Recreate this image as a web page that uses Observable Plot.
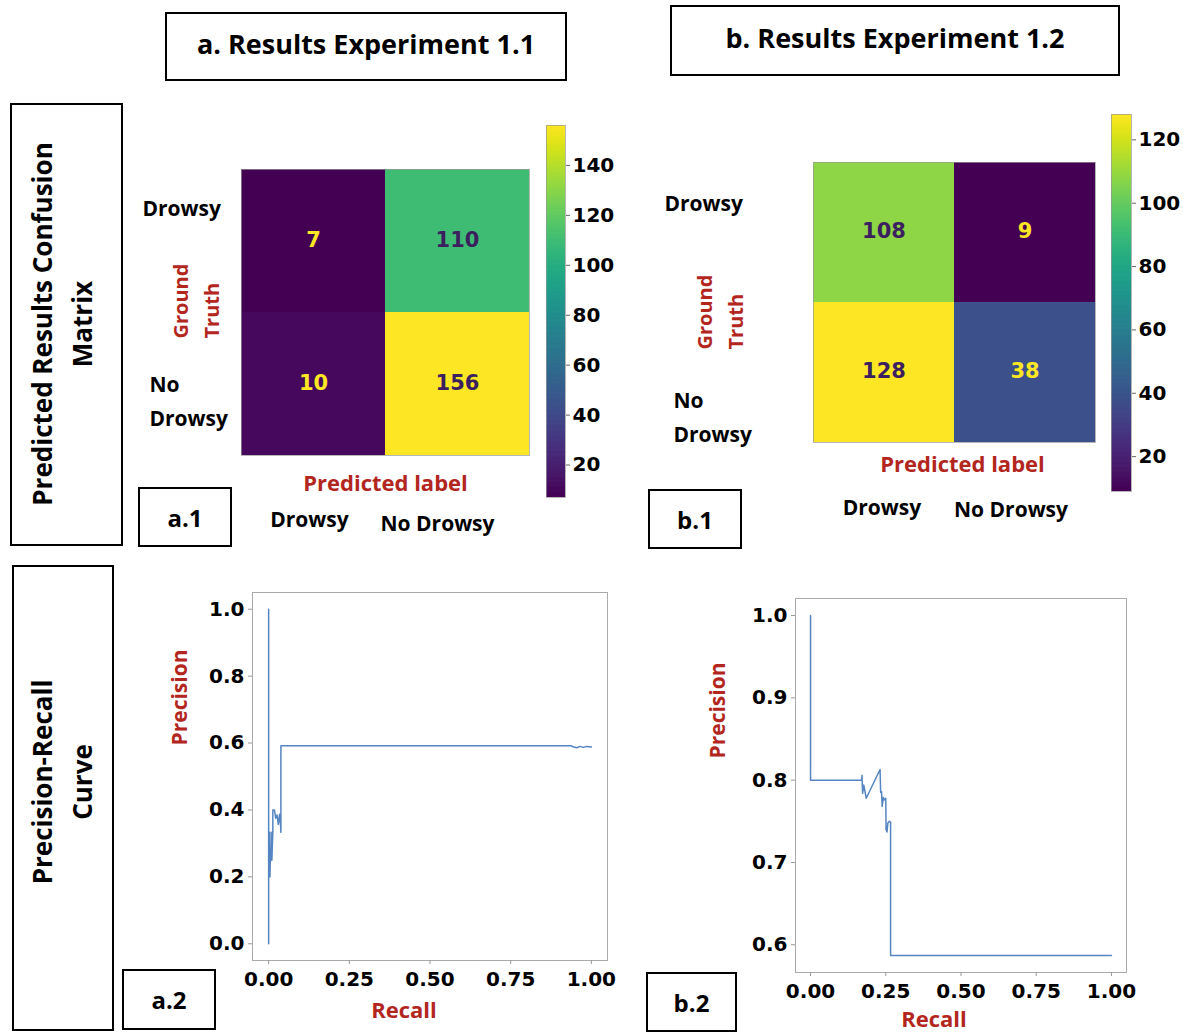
<!DOCTYPE html>
<html><head><meta charset="utf-8">
<script src="https://cdn.jsdelivr.net/npm/d3@7"></script>
<script src="https://cdn.jsdelivr.net/npm/@observablehq/plot@0.6"></script>
<style>
body{margin:0;background:#fff;}
#root{position:relative;width:1194px;height:1036px;overflow:hidden;font-family:"Open Sans",sans-serif;font-weight:700;color:#000;}
.box{position:absolute;border:2px solid #000;box-sizing:border-box;display:flex;align-items:center;justify-content:center;font-weight:700;background:#fff;}
.title{padding-bottom:7px;}
.rot{position:absolute;transform:translate(-50%,-50%) rotate(-90deg);white-space:pre;text-align:center;font-size:26px;line-height:40px;font-weight:700;}
</style></head><body><div id="root"></div>
<script>
// ---------- data ----------
const classes = ["Drowsy", "No Drowsy"];
const rowLabels = ["Drowsy", "No\nDrowsy"];
// confusion matrices, row-major: [truth Drowsy: pred Drowsy, pred No Drowsy, truth No Drowsy: ...]
const matrixA = [7, 110, 10, 156];
const matrixB = [108, 9, 128, 38];
const cbTicksA = [20, 40, 60, 80, 100, 120, 140];
const cbTicksB = [20, 40, 60, 80, 100, 120];
const prTicksX = [0, 0.25, 0.5, 0.75, 1.0];
const prTicksYA = [0, 0.2, 0.4, 0.6, 0.8, 1.0];
const prTicksYB = [0.6, 0.7, 0.8, 0.9, 1.0];
const recallA = [0, 0, 0, 0.004, 0.004, 0.006, 0.008, 0.010, 0.010, 0.013, 0.013, 0.018, 0.022, 0.026, 0.030, 0.034, 0.037, 0.038, 0.038, 0.937, 0.945, 0.955, 0.965, 0.975, 0.985, 1.0];
const precisionA = [1.0, 0.0, 0.333, 0.333, 0.2, 0.286, 0.25, 0.333, 0.25, 0.333, 0.4, 0.4, 0.375, 0.385, 0.357, 0.387, 0.353, 0.333, 0.592, 0.592, 0.588, 0.586, 0.590, 0.587, 0.590, 0.588];
const recallB = [0, 0, 0.170, 0.171, 0.173, 0.177, 0.185, 0.231, 0.233, 0.236, 0.238, 0.242, 0.245, 0.250, 0.251, 0.254, 0.257, 0.262, 0.266, 0.266, 1.0];
const precisionB = [1.0, 0.8, 0.8, 0.806, 0.784, 0.794, 0.778, 0.813, 0.785, 0.786, 0.768, 0.779, 0.776, 0.778, 0.740, 0.737, 0.748, 0.750, 0.749, 0.587, 0.587];

// ---------- helpers ----------
const root = document.getElementById("root");
const RED = "#b3261e";
const TXT = "Open Sans";
const NUM = "DejaVu Sans";
function place(el, left, top) {
  el.style.position = "absolute";
  el.style.left = left + "px";
  el.style.top = top + "px";
  root.appendChild(el);
}
function box(text, left, top, w, h, fs, cls) {
  const d = document.createElement("div");
  d.className = "box" + (cls ? " " + cls : "");
  d.style.left = left + "px"; d.style.top = top + "px";
  d.style.width = w + "px"; d.style.height = h + "px";
  d.style.fontSize = fs + "px";
  d.textContent = text;
  root.appendChild(d);
}
function rotLabel(text, cx, cy) {
  const d = document.createElement("div");
  d.className = "rot";
  d.style.left = cx + "px"; d.style.top = cy + "px";
  d.textContent = text;
  root.appendChild(d);
}
const baseStyle = {fontFamily: NUM, fontSize: "20px", fontWeight: "bold", color: "#000", background: "transparent", overflow: "visible"};

function matrixPlot(values, g) {
  const cells = values.map((v, i) => ({truth: classes[Math.floor(i / 2)], pred: classes[i % 2], v}));
  const lo = d3.min(values), hi = d3.max(values), mid = (lo + hi) / 2;
  const T = {fontFamily: TXT, fontWeight: 700};
  return Plot.plot({
    width: g.width, height: g.height,
    marginLeft: g.ml, marginTop: g.mt, marginRight: g.mr, marginBottom: g.mb,
    style: baseStyle,
    x: {domain: classes, padding: 0, axis: null},
    y: {domain: classes, padding: 0, axis: null},
    color: {type: "linear", scheme: "viridis", domain: [lo, hi]},
    marks: [
      Plot.cell(cells, {x: "pred", y: "truth", fill: "v", inset: 0}),
      Plot.frame({stroke: "#999", strokeOpacity: 0.7}),
      Plot.text(cells.filter(d => d.v < mid), {x: "pred", y: "truth", text: d => String(d.v), fill: "#fde725", fontSize: 21, dy: -1}),
      Plot.text(cells.filter(d => d.v >= mid), {x: "pred", y: "truth", text: d => String(d.v), fill: "#3b1f5e", fontSize: 21, dy: -1}),
      Plot.text([rowLabels[0]], {y: () => classes[0], text: d => d, frameAnchor: "left", textAnchor: "start", dx: g.r0dx, dy: g.r0dy, fontSize: 21, ...T}),
      Plot.text([rowLabels[1]], {y: () => classes[1], text: d => d, frameAnchor: "left", textAnchor: "start", dx: g.r1dx, dy: g.r1dy, fontSize: 21, lineHeight: 1.6, ...T}),
      Plot.text([classes[0]], {x: d => d, text: d => d, frameAnchor: "bottom", dx: g.c0dx, dy: g.c0dy, fontSize: 21, ...T}),
      Plot.text([classes[1]], {x: d => d, text: d => d, frameAnchor: "bottom", dx: g.c1dx, dy: g.c1dy, fontSize: 21, ...T}),
      Plot.text(["Ground\nTruth"], {text: d => d, frameAnchor: "left", rotate: -90, dx: g.gdx, dy: g.gdy, fill: RED, fontSize: 20, lineHeight: 1.55, ...T}),
      Plot.text(["Predicted label"], {text: d => d, frameAnchor: "bottom", dx: g.pdx, dy: g.pdy, fill: RED, fontSize: 22, ...T})
    ]
  });
}

function colorbar(values, ticks, g) {
  const lo = d3.min(values), hi = d3.max(values);
  const step = (hi - lo) / 300;
  const slices = d3.range(lo, hi, step);
  return Plot.plot({
    width: g.width, height: g.height,
    marginLeft: g.ml, marginTop: g.mt, marginRight: g.mr, marginBottom: g.mb,
    style: baseStyle,
    x: {domain: [0, 1], axis: null},
    y: {domain: [lo, hi], axis: null},
    color: {type: "linear", scheme: "viridis", domain: [lo, hi]},
    marks: [
      Plot.rect(slices, {x1: 0, x2: 1, y1: d => d, y2: d => Math.min(hi, d + step * 1.6), fill: d => d, inset: 0}),
      Plot.frame({stroke: "#999", strokeOpacity: 0.7}),
      Plot.axisY(ticks, {anchor: "right", tickSize: 4, tickPadding: 3, fontSize: 20, label: null, stroke: "#666"})
    ]
  });
}

function prPlot(recall, precision, yTicks, yDomain, g) {
  const rows = recall.map((r, i) => ({r, p: precision[i]}));
  const T = {fontFamily: TXT, fontWeight: 700, fill: RED};
  return Plot.plot({
    width: g.width, height: g.height,
    marginLeft: g.ml, marginTop: g.mt, marginRight: g.mr, marginBottom: g.mb,
    style: baseStyle,
    x: {domain: [-0.05, 1.05]},
    y: {domain: yDomain},
    marks: [
      Plot.frame({stroke: "#aaa"}),
      Plot.axisX(prTicksX, {tickFormat: d3.format(".2f"), tickSize: 4, tickPadding: 7, fontSize: 20, label: null, stroke: "#999"}),
      Plot.axisY(yTicks, {tickFormat: d3.format(".1f"), tickSize: 4, tickPadding: 4, fontSize: 20, label: null, stroke: "#999"}),
      Plot.line(rows, {x: "r", y: "p", stroke: "#5585c2", strokeWidth: 1.5}),
      Plot.text(["Precision"], {text: d => d, frameAnchor: "left", rotate: -90, dx: g.ydx, dy: g.ydy, fontSize: 21, ...T}),
      Plot.text(["Recall"], {text: d => d, frameAnchor: "bottom", dx: g.xdx, dy: g.xdy, fontSize: 22, ...T})
    ]
  });
}

// ---------- layout ----------
box("a. Results Experiment 1.1", 165, 12, 402, 69, 27, "title");
box("b. Results Experiment 1.2", 670, 5, 450, 71, 27, "title");
box("", 10, 103, 113, 443, 25);
box("", 12, 565, 102, 466, 25);
rotLabel("Predicted Results Confusion\nMatrix", 62, 324);
rotLabel("Precision-Recall\nCurve", 62, 782);
box("a.1", 138, 487, 94, 60, 24);
box("b.1", 648, 489, 94, 60, 24);
box("a.2", 122, 969, 94, 61, 24);
box("b.2", 646, 972, 91, 60, 24);

place(matrixPlot(matrixA, {
  width: 419, height: 445, ml: 121, mt: 69, mr: 10, mb: 90,
  r0dx: -99, r0dy: -32, r1dx: -92, r1dy: 14,
  c0dx: -4, c0dy: 71, c1dx: -20, c1dy: 75,
  gdx: -48, gdy: 26, pdx: 0, pdy: 35
}), 120, 100);

place(colorbar(matrixA, cbTicksA, {width: 95, height: 407, ml: 16, mt: 25, mr: 60, mb: 10}), 530, 100);

place(matrixPlot(matrixB, {
  width: 465, height: 432, ml: 173, mt: 62, mr: 10, mb: 90,
  r0dx: -149, r0dy: -28, r1dx: -140, r1dy: 42,
  c0dx: -2, c0dy: 72, c1dx: -14, c1dy: 74,
  gdx: -96, gdy: 47, pdx: 8, pdy: 29
}), 640, 100);

place(colorbar(matrixB, cbTicksB, {width: 96, height: 401, ml: 16, mt: 14, mr: 60, mb: 10}), 1095, 100);

place(prPlot(recallA, precisionA, prTicksYA, [-0.05, 1.05], {
  width: 482, height: 460, ml: 112, mt: 22, mr: 15, mb: 70,
  ydx: -72, ydy: -31, xdx: -26, xdy: 57
}), 140, 570);

place(prPlot(recallB, precisionB, prTicksYB, [0.5663, 1.0207], {
  width: 456, height: 457, ml: 105, mt: 23, mr: 20, mb: 60,
  ydx: -77, ydy: -27, xdx: -27, xdy: 54
}), 690, 575);
</script>
</body></html>
